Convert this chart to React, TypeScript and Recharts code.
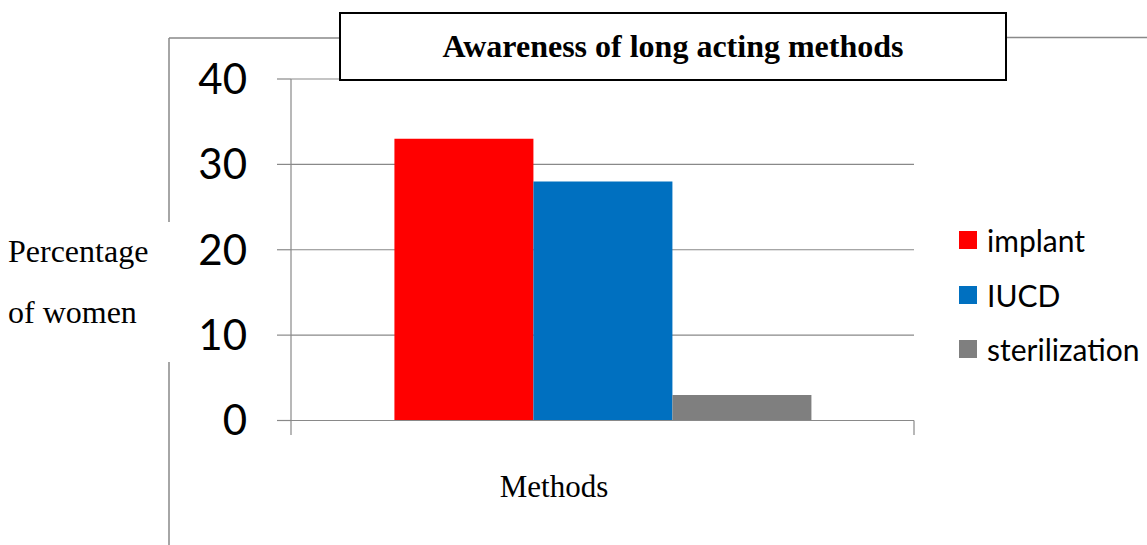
import { BarChart, Bar, XAxis, YAxis, CartesianGrid } from 'recharts';

const methods = ['Methods'];
const seriesNames = ['implant', 'IUCD', 'sterilization'];
const seriesValues = [33, 28, 3];
const seriesColors = ['#FF0000', '#0070C0', '#7F7F7F'];
const yTicks = [0, 10, 20, 30, 40];

const data = methods.map((m) => {
  const row: Record<string, string | number> = { method: m };
  seriesNames.forEach((n, i) => {
    row[n] = seriesValues[i];
  });
  return row;
});

const W = 1147;
const H = 545;
const GRAY = '#898989';
const SERIF = '"Liberation Serif", "Times New Roman", serif';
const SANS = 'Lato, "Open Sans", sans-serif';

// plot box edges, used for the frame decorations drawn over the chart
const PLOT_LEFT = 291;
const PLOT_RIGHT = 914;
const PLOT_TOP = 79;
const PLOT_BOTTOM = 420.5;

export default function App() {
  return (
    <div style={{ position: 'absolute', left: 0, top: 0, width: W, height: H, background: '#fff' }}>
      <BarChart
        width={W}
        height={H}
        data={data}
        margin={{ top: PLOT_TOP, right: W - PLOT_RIGHT, left: 0, bottom: 0 }}
        barCategoryGap="16.6%"
        barGap={0}
      >
        <CartesianGrid vertical={false} stroke={GRAY} strokeWidth={1.2} />
        <XAxis
          dataKey="method"
          height={H - PLOT_BOTTOM}
          tick={false}
          tickLine={false}
          axisLine={{ stroke: GRAY, strokeWidth: 1.2 }}
        />
        <YAxis
          width={PLOT_LEFT}
          domain={[0, 40]}
          ticks={yTicks}
          interval={0}
          tickSize={14}
          tickMargin={30}
          axisLine={{ stroke: GRAY, strokeWidth: 1.2 }}
          tickLine={{ stroke: GRAY, strokeWidth: 1.2 }}
          tick={{ fill: '#000', fontSize: 42, fontFamily: SANS }}
        />
        {seriesNames.map((n, i) => (
          <Bar key={n} dataKey={n} fill={seriesColors[i]} isAnimationActive={false} />
        ))}
      </BarChart>

      {/* outer frame, category edge ticks and axis captions */}
      <svg width={W} height={H} style={{ position: 'absolute', left: 0, top: 0, pointerEvents: 'none' }}>
        <g stroke={GRAY} strokeWidth={1.5} fill="none">
          <line x1={169} y1={38} x2={169} y2={222} />
          <line x1={169} y1={362} x2={169} y2={545} />
          <line x1={169} y1={38} x2={340} y2={38} />
          <line x1={1006} y1={37.5} x2={1147} y2={37.5} />
          <line x1={PLOT_LEFT} y1={PLOT_BOTTOM} x2={PLOT_LEFT} y2={435} strokeWidth={1.2} />
          <line x1={PLOT_RIGHT} y1={PLOT_BOTTOM} x2={PLOT_RIGHT} y2={435} strokeWidth={1.2} />
        </g>
        <g fontFamily={SERIF} fill="#000">
          <text x={8} y={262} fontSize={32}>Percentage</text>
          <text x={8} y={323} fontSize={32}>of women</text>
          <text x={554} y={497} fontSize={31} textAnchor="middle">Methods</text>
        </g>
      </svg>

      {/* title box */}
      <div
        style={{
          position: 'absolute',
          left: 339,
          top: 12,
          width: 668,
          height: 69,
          boxSizing: 'border-box',
          border: '2px solid #000',
          background: '#fff',
          display: 'flex',
          alignItems: 'center',
          justifyContent: 'center',
          fontFamily: SERIF,
          fontWeight: 'bold',
          fontSize: 32,
          color: '#000',
        }}
      >
        Awareness of long acting methods
      </div>

      {/* legend */}
      <div style={{ position: 'absolute', left: 959, top: 213, fontFamily: SANS, fontSize: 30, color: '#000' }}>
        {seriesNames.map((n, i) => (
          <div key={n} style={{ display: 'flex', alignItems: 'center', height: 54.5 }}>
            <span style={{ width: 18, height: 18, background: seriesColors[i], marginRight: 10, display: 'inline-block' }} />
            <span>{n}</span>
          </div>
        ))}
      </div>
    </div>
  );
}
